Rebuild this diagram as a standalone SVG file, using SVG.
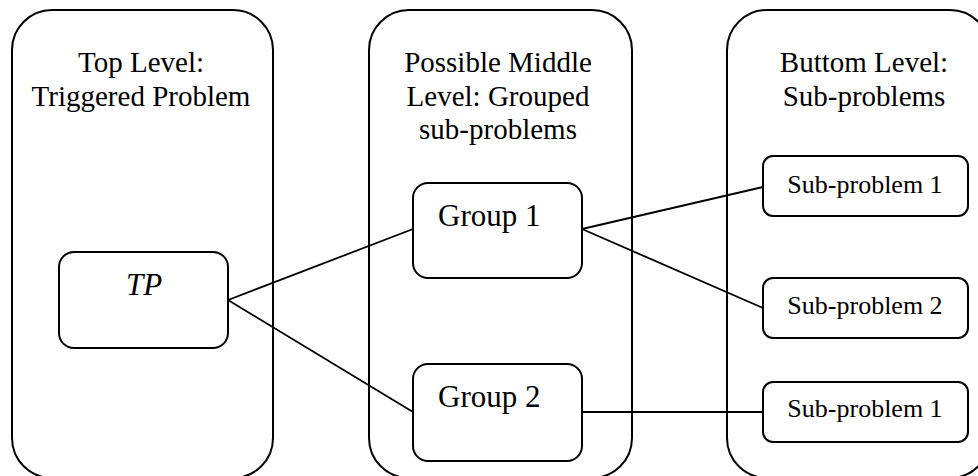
<svg xmlns="http://www.w3.org/2000/svg" width="978" height="476" viewBox="0 0 978 476">
<style>
.c{fill:none;stroke:#000;stroke-width:2}
.n{fill:#fff;stroke:#000;stroke-width:2}
text{font-family:'Liberation Serif','Times New Roman',Tinos,'DejaVu Serif',serif;fill:#000}
.t{font-size:29px;text-anchor:middle}
.g{font-size:31px}
.s{font-size:26px;text-anchor:middle}
.e{fill:none;stroke:#000;stroke-width:1.8}
</style>
<rect width="978" height="476" fill="#fff"/>
<g id="level-top">
<rect class="c" x="12" y="10" width="261" height="468" rx="40"/>
<text class="t" x="141" y="72" font-family="Liberation Serif">Top Level:</text>
<text class="t" x="141" y="106" font-family="Liberation Serif">Triggered Problem</text>
</g>
<g id="level-middle">
<rect class="c" x="369" y="10" width="263" height="468" rx="40"/>
<text class="t" x="498" y="72">Possible Middle</text>
<text class="t" x="498" y="106">Level: Grouped</text>
<text class="t" x="498" y="139">sub-problems</text>
</g>
<g id="level-bottom">
<rect class="c" x="727" y="10" width="263" height="468" rx="40"/>
<text class="t" x="864" y="72">Buttom Level:</text>
<text class="t" x="864" y="106">Sub-problems</text>
</g>
<g id="connectors">
<line class="e" x1="228" y1="300" x2="413" y2="229"/>
<line class="e" x1="228" y1="300" x2="413" y2="412"/>
<line class="e" x1="582" y1="229" x2="763" y2="187"/>
<line class="e" x1="582" y1="229" x2="763" y2="308"/>
<line class="e" x1="582" y1="412" x2="763" y2="412"/>
</g>
<g id="tp">
<rect class="n" x="59" y="252" width="169" height="96" rx="15"/>
<text class="g" x="144" y="295" text-anchor="middle" font-style="italic">TP</text>
</g>
<g id="group1">
<rect class="n" x="413" y="183" width="169" height="95" rx="15"/>
<text class="g" x="438" y="226">Group 1</text>
</g>
<g id="group2">
<rect class="n" x="413" y="364" width="169" height="97" rx="15"/>
<text class="g" x="438" y="407">Group 2</text>
</g>
<g id="sub1">
<rect class="n" x="763" y="156" width="205" height="60" rx="10"/>
<text class="s" x="865" y="193">Sub-problem 1</text>
</g>
<g id="sub2">
<rect class="n" x="763" y="278" width="205" height="60" rx="10"/>
<text class="s" x="865" y="314">Sub-problem 2</text>
</g>
<g id="sub3">
<rect class="n" x="763" y="382" width="205" height="60" rx="10"/>
<text class="s" x="865" y="417">Sub-problem 1</text>
</g>
</svg>
